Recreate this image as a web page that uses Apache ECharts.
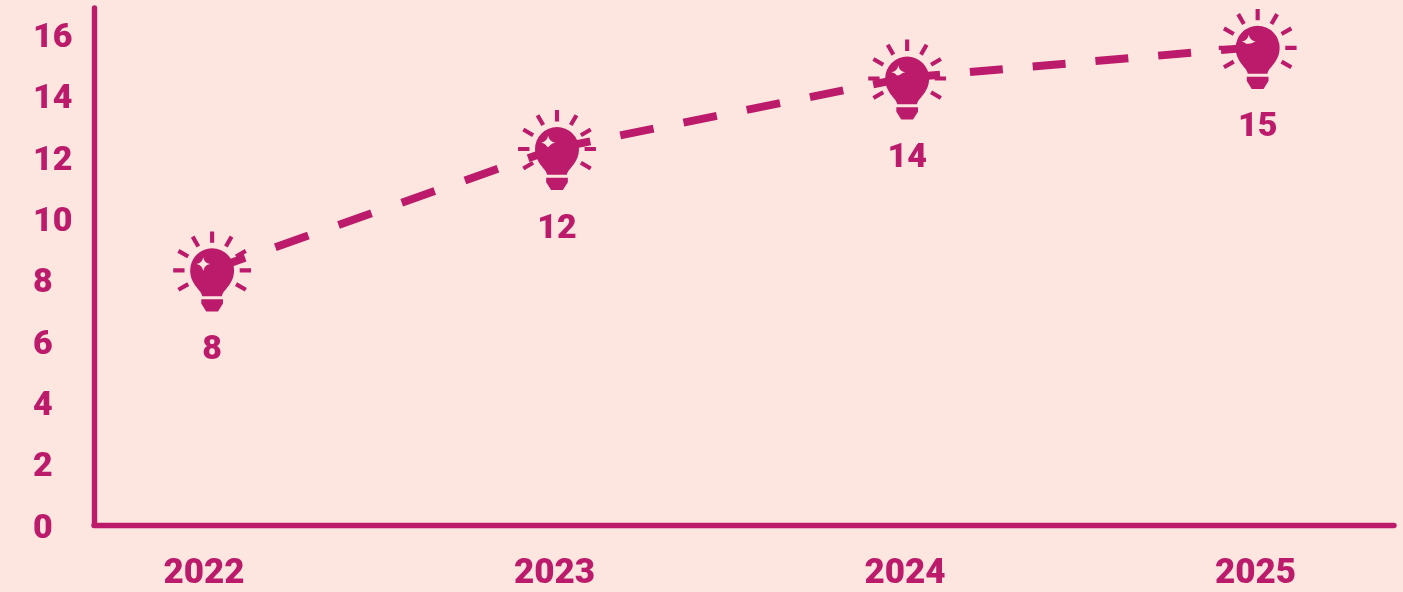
<!DOCTYPE html>
<html><head><meta charset="utf-8">
<style>html,body{margin:0;padding:0;background:#fde6e0}#c{width:1403px;height:592px}</style>
<script src="https://cdn.jsdelivr.net/npm/echarts@6/dist/echarts.min.js"></script>
</head><body><div id="c"></div>
<script>
const years = [2022, 2023, 2024, 2025];
const pointYears = [2022.023, 2023.007, 2024.006, 2025.006];
const values = [8.34, 12.3, 14.6, 15.6];
const pointLabels = ['8', '12', '14', '15'];
const yTicks = [0, 2, 4, 6, 8, 10, 12, 14, 16];
const segmentDashes = [[35, 32], [34, 30.5], [33, 30]];
const PINK = '#bc1a6a';

function ray(deg, r0, r1, w) {
  const a = deg * Math.PI / 180, cx = 40, cy = 38.3;
  const ux = Math.cos(a), uy = Math.sin(a), nx = -uy * w / 2, ny = ux * w / 2;
  const p = [[r0, 1], [r1, 1], [r1, -1], [r0, -1]].map(([r, s]) =>
    (cx + ux * r + nx * s).toFixed(2) + ' ' + (cy + uy * r + ny * s).toFixed(2));
  return 'M' + p[0] + 'L' + p[1] + 'L' + p[2] + 'L' + p[3] + 'Z';
}
const rays = [180, 210, 240, 270, 300, 330, 0, 150, 30]
  .map(d => ray(d, 28, 39.5, 4.2)).join('');
const globe = 'M30 64.5C29 58 17.7 53 17.7 38.3A22.3 22.3 0 1 1 62.3 38.3C62.3 53 51 58 50 64.5Z';
const spark = 'M31 25Q30 31 24 32Q30 33 31 39Q32 33 38 32Q32 31 31 25Z';
const base = 'M29 67.6L51 67.6L51 72L46 80L34 80L29 72Z';
const bulb = 'path://' + rays + globe + spark + base;

const points = pointYears.map((x, i) => [x, values[i]]);
const segments = segmentDashes.map((dash, i) => ({
  type: 'line',
  data: [points[i], points[i + 1]],
  symbol: 'none',
  silent: true,
  lineStyle: {color: PINK, width: 8, type: dash}
}));

const chart = echarts.init(document.getElementById('c'), null, {renderer: 'canvas'});
chart.setOption({
  backgroundColor: '#fde6e0',
  animation: false,
  textStyle: {fontFamily: 'Roboto'},
  grid: {left: 94, right: 9, top: 8, bottom: 66},
  xAxis: {
    type: 'value', min: 2021.686, max: 2025.395,
    splitLine: {show: false},
    axisLine: {show: true, lineStyle: {color: PINK, width: 5.4}},
    axisTick: {show: false},
    axisLabel: {customValues: years, formatter: v => String(v), color: PINK,
      fontFamily: 'Roboto', fontWeight: 900, fontSize: 35, margin: 32}
  },
  yAxis: {
    type: 'value', min: 0, max: 16.87,
    splitLine: {show: false},
    axisLine: {show: true, lineStyle: {color: PINK, width: 5.4}},
    axisTick: {show: false},
    axisLabel: {customValues: yTicks, color: PINK, align: 'left', margin: 61,
      formatter: v => '{a|' + v + '}',
      rich: {a: {color: PINK, fontFamily: 'Roboto', fontWeight: 900, fontSize: 34,
        padding: [8, 0, 0, 0]}}}
  },
  series: segments.concat([{
    type: 'scatter',
    data: points,
    z: 1,
    symbol: bulb, symbolSize: 80, symbolOffset: [0, 2], symbolKeepAspect: true,
    itemStyle: {color: PINK, opacity: 1},
    label: {show: true, position: 'bottom', distance: 22, color: PINK,
      fontFamily: 'Roboto', fontWeight: 900, fontSize: 34,
      formatter: p => pointLabels[p.dataIndex]}
  }])
});
</script></body></html>
